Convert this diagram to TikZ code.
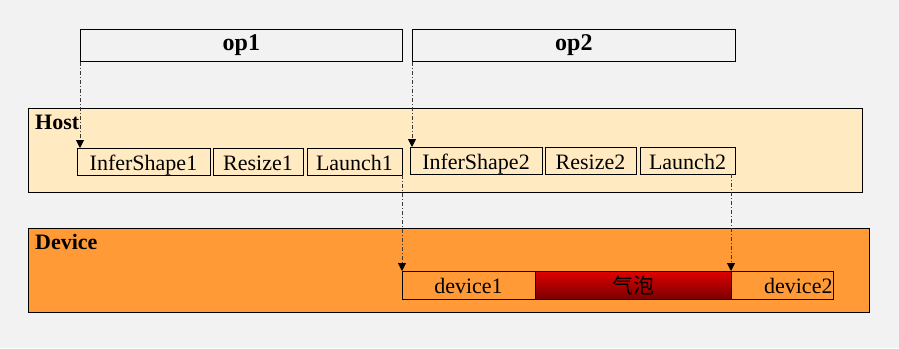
\documentclass[tikz,border=0pt]{standalone}
\usepackage{fontspec}
\setmainfont{Liberation Serif}
\newfontfamily\cjk{Noto Sans CJK SC}
\usepackage{tikz}
\usetikzlibrary{positioning,arrows.meta}
\definecolor{pagegray}{HTML}{F2F2F2}
\definecolor{hostfill}{HTML}{FFEAC2}
\definecolor{devfill}{HTML}{FF9A36}
\definecolor{linkgray}{HTML}{3A3A3A}
\tikzset{
  callarrow/.style={-{Triangle[length=8pt,width=8pt,color=black]}, draw=linkgray, line width=0.8pt, dash pattern=on 4pt off 2pt on 1pt off 2pt},
  opbox/.style={draw, line width=0.8pt, anchor=north west, inner sep=0pt, minimum height=32pt, font=\fontsize{24}{26}\selectfont\bfseries},
  lanebox/.style={draw, line width=0.8pt, anchor=north west, inner sep=0pt, minimum height=84pt},
  stepbox/.style={draw, line width=0.8pt, inner sep=0pt, outer sep=0pt, minimum height=27pt, text height=17pt, text depth=0pt, font=\fontsize{22}{24}\selectfont},
  lanelabel/.style={anchor=west, inner sep=0pt, font=\fontsize{22}{24}\selectfont\bfseries}
}
\begin{document}
\begin{tikzpicture}[x=1pt, y=-1pt]
  \fill[pagegray] (0,0) rectangle (899,348);
  \useasboundingbox (0,0) rectangle (899,348);
  % ops
  \node[opbox, minimum width=322pt] (op1) at (80,29) {op1};
  \node[opbox, minimum width=323pt] (op2) at (412,29) {op2};
  % host lane
  \node[lanebox, fill=hostfill, minimum width=834pt] (host) at (28,108) {};
  \node[lanelabel] (hostlabel) at (35,122) {Host};
  \node[stepbox, anchor=north west, minimum width=133pt] (infer1) at (77,148) {InferShape1};
  \node[stepbox, minimum width=90pt, right=3pt of infer1] (resize1) {Resize1};
  \node[stepbox, minimum width=95pt, right=4pt of resize1] (launch1) {Launch1};
  \node[stepbox, anchor=north west, minimum width=132pt] (infer2) at (410,147) {InferShape2};
  \node[stepbox, minimum width=91pt, right=3pt of infer2] (resize2) {Resize2};
  \node[stepbox, minimum width=95pt, right=4pt of resize2] (launch2) {Launch2};
  % device lane
  \node[lanebox, fill=devfill, minimum width=841pt] (device) at (28,228) {};
  \node[lanelabel] (devlabel) at (35,242) {Device};
  \node[stepbox, anchor=north west, minimum width=133pt, minimum height=28pt] (device1) at (402,271) {device1};
  \node[stepbox, minimum width=196pt, minimum height=28pt, right=0pt of device1,
        top color=red!88!black, bottom color=red!48!black, font=\fontsize{21}{24}\cjk] (bubble) {气泡};
  \node[stepbox, minimum width=102pt, minimum height=28pt, right=0pt of bubble,
        text width=101pt, align=right] (device2) {device2};
  % calls
  \draw[callarrow] (op1.south west) -- (op1.south west |- infer1.north);
  \draw[callarrow] (op2.south west) -- (op2.south west |- infer2.north);
  \draw[callarrow] (launch1.south east) -- (device1.north west);
  \draw[callarrow] (launch2.south -| device2.west) -- (device2.north west);
\end{tikzpicture}
\end{document}
